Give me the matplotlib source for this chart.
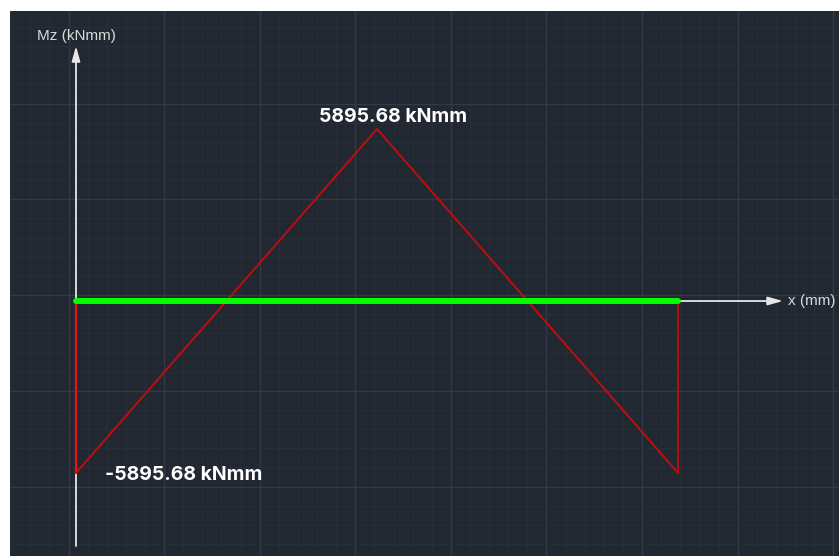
import matplotlib
matplotlib.use("Agg")
import matplotlib.pyplot as plt
from matplotlib.ticker import MultipleLocator

# Fixed-fixed beam with a central point load: bending moment Mz along x
span_mm = 4000.0
x_points = [0.0, span_mm / 2, span_mm]
mz_points = [-5895.68, 5895.68, -5895.68]
peak_label = "5895.68 kNmm"
end_label = "-5895.68 kNmm"
x_axis_label = "x (mm)"
y_axis_label = "Mz (kNmm)"

BG = "#222831"
MINOR = "#282e38"
MAJOR = "#323a48"
AXIS = "#e6e6e6"
TEXT = "#ffffff"

W, H = 839, 556
fig = plt.figure(figsize=(W / 100, H / 100), dpi=100, facecolor="white")
rect = [10 / W, 0, 829 / W, 545 / H]

# Background drafting grid
gax = fig.add_axes(rect)
gax.set_facecolor(BG)
gax.set_xlim(-3.06, 40.30)
gax.set_ylim(23.62, -4.83)
gax.xaxis.set_major_locator(MultipleLocator(5))
gax.xaxis.set_minor_locator(MultipleLocator(1))
gax.yaxis.set_major_locator(MultipleLocator(5))
gax.yaxis.set_minor_locator(MultipleLocator(1))
gax.grid(which="minor", color=MINOR, lw=0.8)
gax.grid(which="major", color=MAJOR, lw=1.0)
gax.tick_params(which="both", length=0, labelbottom=False, labelleft=False)
for s in gax.spines.values():
    s.set_visible(False)
gax.set_axisbelow(True)

# Diagram axes in mm / kNmm
ax = fig.add_axes(rect)
ax.set_facecolor("none")
ax.axis("off")
ax.set_xlim(-438.5, 5069.8)
ax.set_ylim(-8740.6, 9940.5)

# Coordinate axes with arrows
ax.annotate("", xy=(0, 8741), xytext=(0, -8398),
            arrowprops=dict(arrowstyle="-|>,head_length=0.9,head_width=0.25",
                            color=AXIS, lw=1.3, shrinkA=0, shrinkB=0), zorder=2)
ax.annotate("", xy=(4698, 0), xytext=(0, 0),
            arrowprops=dict(arrowstyle="-|>,head_length=0.9,head_width=0.25",
                            color=AXIS, lw=1.3, shrinkA=0, shrinkB=0), zorder=2)
ax.annotate(y_axis_label, xy=(0, 8741), xytext=(0, 6), textcoords="offset pixels",
            ha="center", va="baseline", color="#d9d9d9", fontsize=11,
            family="Liberation Sans")
ax.annotate(x_axis_label, xy=(4698, 0), xytext=(5, 0), textcoords="offset pixels",
            ha="left", va="center", color="#d9d9d9", fontsize=11,
            family="Liberation Sans")

# Moment diagram
ax.plot([x_points[0], x_points[0]], [0, mz_points[0]], color="#ee1111", lw=1.6,
        zorder=3, solid_capstyle="butt")
ax.plot(x_points, mz_points, color="#c00d0d", lw=1.4, zorder=3)
ax.plot([x_points[-1], x_points[-1]], [mz_points[-1], 0], color="#b80c0c", lw=1.4,
        zorder=3, solid_capstyle="butt")

# Beam
ax.plot([x_points[0], x_points[-1]], [0, 0], color="#00ff00", lw=4.3,
        solid_capstyle="round", zorder=4)

# Extreme value labels
ax.annotate(peak_label, xy=(x_points[1], mz_points[1]), xytext=(16, 7),
            textcoords="offset pixels", ha="center", va="baseline",
            color=TEXT, fontsize=14, fontweight="bold", family="Inter")
ax.annotate(end_label, xy=(x_points[0], mz_points[0]), xytext=(29, -7),
            textcoords="offset pixels", ha="left", va="baseline",
            color=TEXT, fontsize=14, fontweight="bold", family="Inter")

fig.savefig("out.png", dpi=100, facecolor="white")
